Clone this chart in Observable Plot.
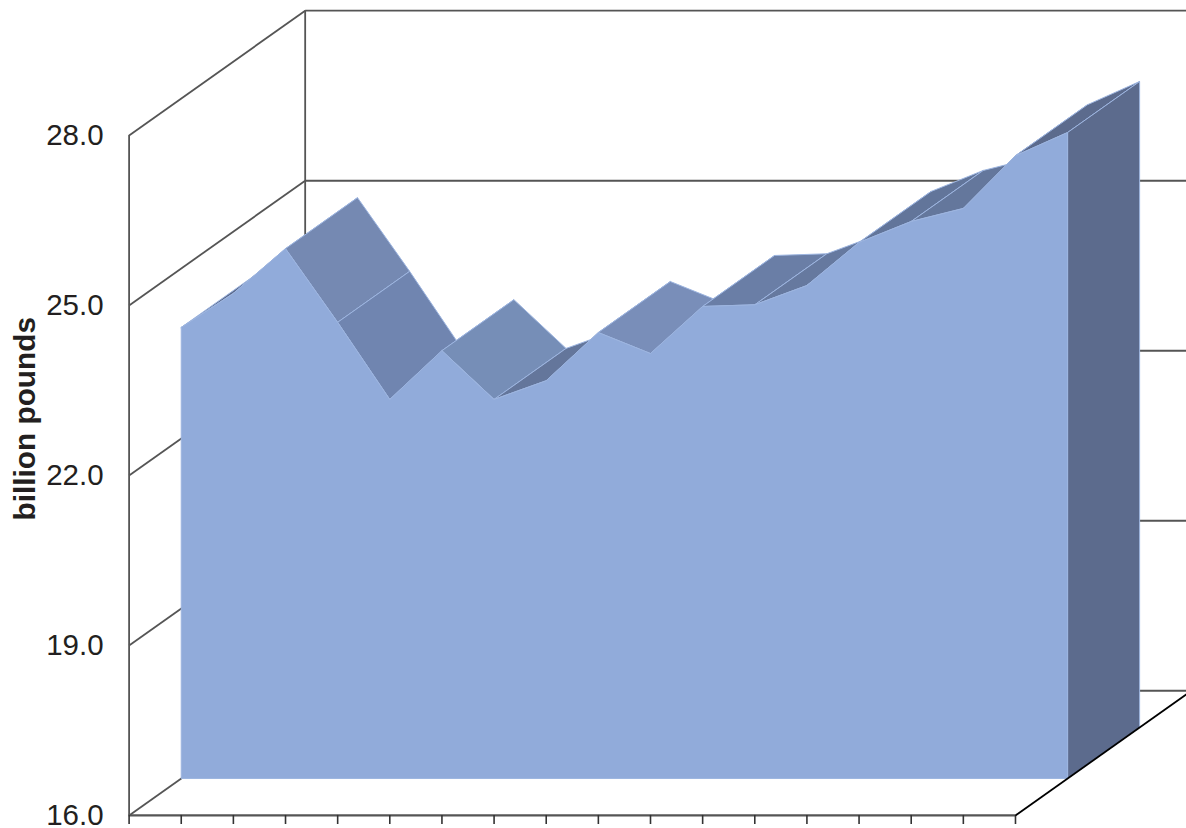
<!DOCTYPE html>
<html>
<head>
<meta charset="utf-8">
<style>
html,body{margin:0;padding:0;background:#fff;overflow:hidden}
svg{display:block}
</style>
<script src="https://cdn.jsdelivr.net/npm/d3@7"></script>
<script src="https://cdn.jsdelivr.net/npm/@observablehq/plot@0.6"></script>
</head>
<body>
<script>
const values = [23.96,24.56,25.35,24.05,22.69,23.55,22.69,23.02,23.87,23.50,24.33,24.36,24.70,25.46,25.83,26.06,26.99,27.40];
const faceColors = ["#5c6b8d","#5c6b8d","#7589b2","#7085b0","#5c6b8d","#768eb7","#64769b","#5c6b8d","#798eb9","#5c6b8d","#6a7ea6","#66799f","#5f6f95","#62759a","#64779c","#5c6b8d","#5c6b8d"];
const yTicks = [16,19,22,25,28];
const xTicks = d3.range(0,18);
const yTop = 28;
const yBase = 16;
const yLabel = "billion pounds";

const depthX = 3.377, depthY = 2.2;   // full depth of the box, in data units
const dFront = 0.296, dBack = 0.705;  // the slab's position in that depth
const px = (i,d) => i + d*depthX;
const py = (v,d) => v + d*depthY;

const n = values.length;
const faces = [];
for (let i=0;i<n-1;i++){
  const c = faceColors[i];
  [[i,values[i],dFront],[i+1,values[i+1],dFront],[i+1,values[i+1],dBack],[i,values[i],dBack],[i,values[i],dFront]]
    .forEach(([a,v,d]) => faces.push({face:i,x:px(a,d),y:py(v,d),color:c}));
}
const side = [[values[n-1],dFront],[values[n-1],dBack],[yBase,dBack],[yBase,dFront],[values[n-1],dFront]]
  .map(([v,d]) => ({x:px(n-1,d),y:py(v,d)}));
const front = [
  ...values.map((v,i)=>({x:px(i,dFront),y:py(v,dFront)})),
  {x:px(n-1,dFront),y:py(yBase,dFront)},
  {x:px(0,dFront),y:py(yBase,dFront)},
  {x:px(0,dFront),y:py(values[0],dFront)}
];

const wall = "#555";
const chart = Plot.plot({
  width:1186, height:828,
  marginLeft:128.6, marginRight:0, marginTop:10, marginBottom:4,
  style:{fontFamily:"'Liberation Sans',Arial,sans-serif",background:"#fff",color:"#231f20"},
  x:{domain:[0,20.28],axis:null},
  y:{domain:[15.84,15.84+814/56.67]},
  color:{type:"identity"},
  marks:[
    // left wall, back wall
    Plot.link(yTicks,{x1:()=>0,x2:()=>depthX,y1:d=>d,y2:d=>d+depthY,stroke:wall,strokeWidth:1.8}),
    Plot.link(yTicks.slice(1),{x1:()=>depthX,x2:()=>20.4,y1:d=>d+depthY,y2:d=>d+depthY,stroke:wall,strokeWidth:1.8}),
    Plot.ruleX([0],{y1:yBase,y2:yTop,stroke:wall,strokeWidth:1.8}),
    Plot.ruleX([depthX],{y1:yBase+depthY,y2:yTop+depthY,stroke:wall,strokeWidth:1.8}),
    // floor
    Plot.link([0],{x1:()=>depthX,x2:()=>20.4,y1:()=>yBase+depthY,y2:()=>yBase+depthY,stroke:wall,strokeWidth:1.8}),
    Plot.ruleY([yBase],{x1:0,x2:17,stroke:wall,strokeWidth:2.2}),
    Plot.ruleX(xTicks,{y1:yBase,y2:15.84,stroke:"#333",strokeWidth:1.6}),
    // slab
    Plot.line(faces,{x:"x",y:"y",z:"face",fill:"color",stroke:"#9db5e0",strokeWidth:1,curve:"linear"}),
    Plot.line(side,{x:"x",y:"y",fill:"#5c6b8d",stroke:"#9db5e0",strokeWidth:1}),
    Plot.line(front,{x:"x",y:"y",fill:"#91abda",stroke:"#9db5e0",strokeWidth:1}),
    // floor edge runs in front of the slab
    Plot.link([0],{x1:()=>17,x2:()=>17+depthX,y1:()=>yBase,y2:()=>yBase+depthY,stroke:"#000",strokeWidth:1.8}),
    // axis
    Plot.axisY({ticks:yTicks,tickFormat:d3.format(".1f"),tickSize:0,tickPadding:25.5,fontSize:29.5,dy:0.5,label:null}),
    Plot.text([yLabel],{text:d=>d,frameAnchor:"left",textAnchor:"middle",y:()=>23,dx:-104,rotate:-90,fontSize:29.8,fontWeight:"bold",fill:"#231f20"})
  ]
});
document.body.appendChild(chart);
</script>
</body>
</html>
